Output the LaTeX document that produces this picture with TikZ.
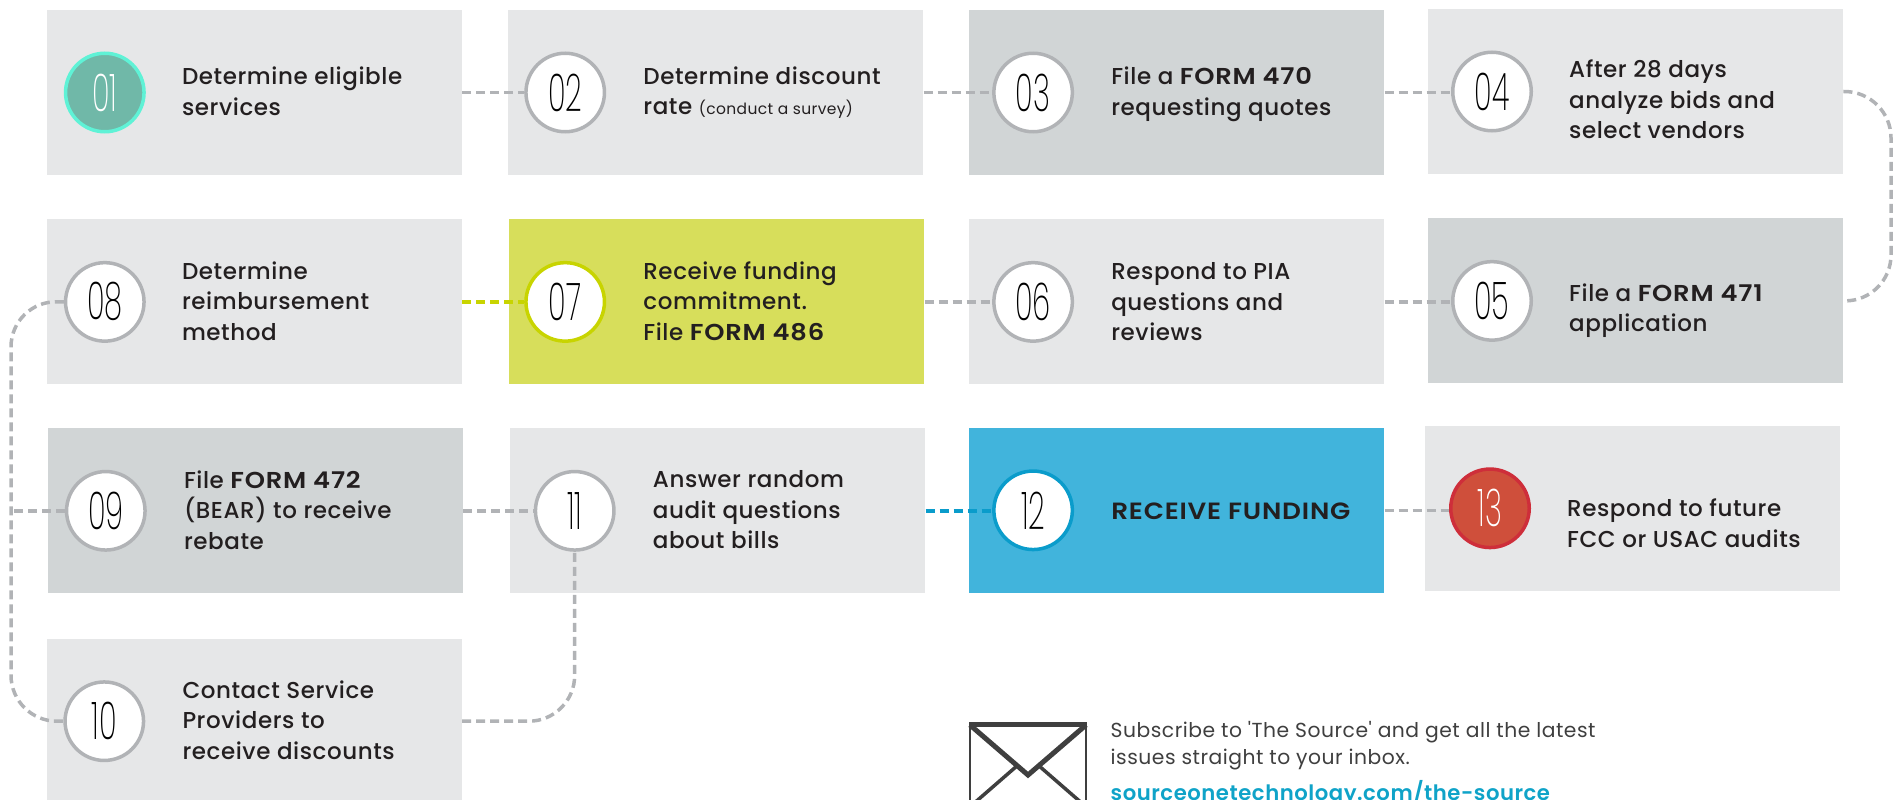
\documentclass[tikz,border=0pt]{standalone}
\usepackage{fontspec}
\setmainfont{Poppins}[UprightFont=* Medium, BoldFont=* SemiBold, LetterSpace=2.5]
\newfontfamily\numfont{Poppins}[UprightFont=* ExtraLight]
\newfontfamily\capsfont{Poppins}[UprightFont=* SemiBold, LetterSpace=3]
\newfontfamily\thinfont{Poppins}[LetterSpace=2.5]
\usetikzlibrary{positioning,calc}

\definecolor{boxlight}{HTML}{E6E7E8}
\definecolor{boxdark}{HTML}{D1D5D6}
\definecolor{boxlime}{HTML}{D7DE5B}
\definecolor{boxblue}{HTML}{41B4DC}
\definecolor{ringgrey}{HTML}{B1B3B6}
\definecolor{ringlime}{HTML}{C8D400}
\definecolor{ringblue}{HTML}{0A9CCB}
\definecolor{ringteal}{HTML}{5FF2D6}
\definecolor{fillteal}{HTML}{70B8A8}
\definecolor{ringred}{HTML}{CE2E3A}
\definecolor{fillred}{HTML}{CF4F3B}
\definecolor{inkdark}{HTML}{231F20}
\definecolor{inkgrey}{HTML}{3F3F3F}
\definecolor{inklink}{HTML}{0FA3C8}

\newcommand{\numtext}[1]{\scalebox{0.56}[1]{\numfont #1}}
\newcommand{\formtext}[1]{\scalebox{1.12}[1]{\capsfont #1}}

\begin{document}
\begin{tikzpicture}[
  x=1pt, y=-1pt,
  box/.style={fill=boxlight, minimum width=415pt, minimum height=165pt, inner sep=0pt},
  dark/.style={box, fill=boxdark},
  num/.style={circle, draw=ringgrey, line width=3.5pt, fill=white, minimum size=78.5pt, inner sep=0pt,
    font=\fontsize{52}{52}\selectfont, text=black},
  lbl/.style={anchor=west, align=left, inner sep=0pt, text=inkdark,
    font=\fontsize{23}{30.5}\selectfont},
  link/.style={draw=ringgrey, line width=3.5pt, dash pattern=on 9pt off 5pt},
  node distance=46pt
]

\useasboundingbox (0,0) rectangle (1902,799.5);
\clip (0,0) rectangle (1902,799.5);

% Boxes
\node[box] at (254.5,92.5) (b01) {};
\node[box, right=of b01] (b02) {};
\node[dark, right=45.5pt of b02] (b03) {};
\node[box, right=43.5pt of b03, yshift=1pt] (b04) {};
\node[box, below=44pt of b01] (b08) {};
\node[box, fill=boxlime, right=47pt of b08] (b07) {};
\node[box, right=44.5pt of b07] (b06) {};
\node[dark, right=43.5pt of b06, yshift=1pt] (b05) {};
\node[dark, below=43.5pt of b08, xshift=1pt] (b09) {};
\node[box, right=47pt of b09] (b11) {};
\node[box, fill=boxblue, right=43.5pt of b11, yshift=0.5pt] (b12) {};
\node[box, right=40.5pt of b12, yshift=2pt] (b13) {};
\node[box, below=45pt of b09, xshift=-1pt] (b10) {};

% Number circles
\node[num, draw=ringteal, fill=fillteal, text=white] at ($(b01.west)+(58,0)$) (c01) {\numtext{01}};
\node[num] at ($(b02.west)+(57,0)$) (c02) {\numtext{02}};
\node[num] at ($(b03.west)+(64,0)$) (c03) {\numtext{03}};
\node[num] at ($(b04.west)+(64,0)$) (c04) {\numtext{04}};
\node[num] at ($(b05.west)+(64,0)$) (c05) {\numtext{05}};
\node[num] at ($(b06.west)+(64,0)$) (c06) {\numtext{06}};
\node[num, draw=ringlime] at ($(b07.west)+(56,0)$) (c07) {\numtext{07}};
\node[num] at ($(b08.west)+(58,0)$) (c08) {\numtext{08}};
\node[num] at ($(b09.west)+(58,0)$) (c09) {\numtext{09}};
\node[num] at ($(b10.west)+(57.5,0)$) (c10) {\numtext{10}};
\node[num] at ($(b11.west)+(64.5,0)$) (c11) {\numtext{11}};
\node[num, draw=ringblue] at ($(b12.west)+(64,0)$) (c12) {\numtext{12}};
\node[num, draw=ringred, fill=fillred, text=white] at ($(b13.west)+(65,0)$) (c13) {\numtext{13}};

% Step labels
\node[lbl, right=36pt of c01, yshift=1pt] (t01) {Determine eligible\\services};
\node[lbl, right=37pt of c02] (t02) {Determine discount\\rate {\thinfont\fontsize{15.5}{15}\selectfont (conduct a survey)}};
\node[lbl, right=37pt of c03, yshift=-2pt] (t03) {File a \formtext{FORM 470}\\requesting quotes};
\node[lbl, right=36pt of c04, yshift=-8pt] (t04) {After 28 days\\analyze bids and\\select vendors};
\node[lbl, right=36pt of c05, yshift=-10pt] (t05) {File a \formtext{FORM 471}\\application};
\node[lbl, right=37pt of c06] (t06) {Respond to PIA\\questions and\\reviews};
\node[lbl, right=37pt of c07, yshift=1pt] (t07) {Receive funding\\commitment.\\File \formtext{FORM 486}};
\node[lbl, right=36pt of c08, yshift=1pt] (t08) {Determine\\reimbursement\\method};
\node[lbl, right=37pt of c09, yshift=1pt] (t09) {File \formtext{FORM 472}\\(BEAR) to receive\\rebate};
\node[lbl, right=37pt of c10, yshift=1pt] (t10) {Contact Service\\Providers to\\receive discounts};
\node[lbl, right=37pt of c11, yshift=1pt] (t11) {Answer random\\audit questions\\about bills};
\node[lbl, right=37pt of c12, yshift=-1pt, font=\fontsize{23.5}{30.5}\selectfont] (t12) {\formtext{RECEIVE FUNDING}};
\node[lbl, right=36pt of c13, yshift=-15pt] (t13) {Respond to future\\FCC or USAC audits};

% Connectors
\draw[link] (b01.east) -- (c02.west);
\draw[link] (b02.east) -- (c03.west);
\draw[link] (b03.east) -- (b03.east -| c04.west);
\coordinate (rgt) at (1891,92);
\draw[link, rounded corners=46pt] (b04.east) -- (rgt) |- (b05.east);
\draw[link] (b06.east) -- (b06.east -| c05.west);
\draw[link] (b07.east) -- (c06.west);
\draw[link, draw=ringlime] (b08.east) -- (c07.west);
\coordinate (lft) at (11,301);
\draw[link, rounded corners=46pt] (c08.west) -- (lft) |- (c10.west);
\draw[link] (c09.west) -- (c09.west -| lft);
\draw[link] (b09.east) -- (c11.west);
\draw[link, draw=ringblue] (b11.east) -- (b11.east -| c12.west);
\draw[link] (b12.east) -- (b12.east -| c13.west);
\draw[link, rounded corners=46pt] (b10.east) -| (c11.south);

% Envelope
\draw[inkgrey, line width=2.5pt] (970,723) rectangle (1086,810);
\draw[inkgrey, line width=5pt] (969,724.5) -- (1087,724.5);
\draw[inkgrey, line width=5pt] (970,725) -- (1028,775) -- (1086,725);
\draw[inkgrey, line width=3.5pt] (1018,765) -- (972,805);
\draw[inkgrey, line width=3.5pt] (1038,765) -- (1084,805);

% Newsletter text
\node[lbl, text=inkgrey, font=\thinfont\fontsize{20.3}{27}\selectfont] at (1110.5,745.5) (sub)
  {Subscribe to 'The Source' and get all the latest\\issues straight to your inbox.};
\node[lbl, text=inklink, font=\fontsize{21.2}{27}\selectfont\bfseries, below=10pt of sub.south west, anchor=north west] (url)
  {sourceonetechnology.com/the-source};

\end{tikzpicture}
\end{document}
